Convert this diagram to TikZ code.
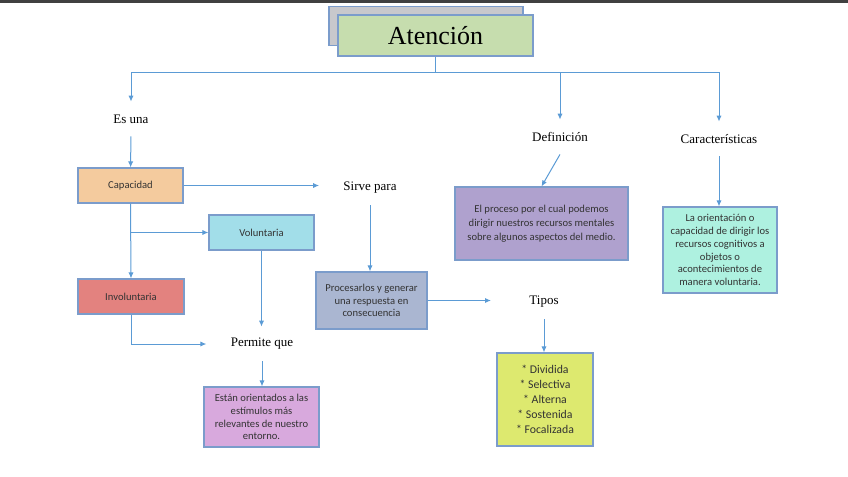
\documentclass[tikz,border=0pt]{standalone}
\usepackage{fontspec}
\setmainfont{Liberation Serif}
\newfontfamily\boxfont{Carlito}
\usetikzlibrary{arrows.meta}
\definecolor{linkblue}{HTML}{5B9BD5}
\definecolor{edgeblue}{HTML}{7B9CCB}
\definecolor{titlegreen}{HTML}{C6DDAE}
\definecolor{shadowgray}{HTML}{C8C8CC}
\definecolor{peach}{HTML}{F4CB9E}
\definecolor{skyblue}{HTML}{A2DEE9}
\definecolor{rosered}{HTML}{E3827F}
\definecolor{orchid}{HTML}{D8A9DD}
\definecolor{slateblue}{HTML}{AAB6D1}
\definecolor{lavender}{HTML}{AFA1CE}
\definecolor{mint}{HTML}{AEF1E0}
\definecolor{lime}{HTML}{DDE96F}

\begin{document}
\begin{tikzpicture}[x=0.5pt,y=-0.5pt,
        conn/.style={draw=linkblue,line width=0.5pt,-{Latex[length=3pt,width=2.6pt]}},
        card/.style={draw=edgeblue,line width=0.55pt,align=center,inner sep=0pt,text=black!80,
            font=\boxfont\fontsize{5.3}{6.4}\selectfont},
        word/.style={font=\fontsize{6.5}{8}\selectfont,inner xsep=12pt,minimum height=17pt}]
    \useasboundingbox (0,0) rectangle (848,477);
    \fill[black!75] (0,0) rectangle (848,2.5);

    % title
    \node[card,fill=shadowgray,minimum width=97pt,minimum height=19.5pt] (shadow) at (426,26) {};
    \node[card,fill=titlegreen,minimum width=97.5pt,minimum height=20.5pt,text=black,
        font=\fontsize{13}{15}\selectfont] (atencion) at (435.5,35.5) {Atención};
    \coordinate (hub) at (435.5,72);

    % plain words
    \node[word] (esuna) at (131,119) {Es una};
    \node[word] (sirve) at (370,188) {Sirve para};
    \node[word] (permite) at (262,344) {Permite que};
    \node[word,inner xsep=19pt] (tipos) at (544,302) {Tipos};
    \node[word] (definicion) at (560,137) {Definición};
    \node[word] (caracteristicas) at (719,139) {Características};

    % boxes
    \node[card,fill=peach,minimum width=52.5pt,minimum height=17.5pt] (capacidad) at (130.5,185.5) {Capacidad};
    \node[card,fill=skyblue,minimum width=52.5pt,minimum height=17.5pt] (voluntaria) at (261.5,232.5) {Voluntaria};
    \node[card,fill=rosered,minimum width=53pt,minimum height=17.5pt] (involuntaria) at (131,296.5) {Involuntaria};
    \node[card,fill=orchid,minimum width=57.5pt,minimum height=30pt] (orientados) at (261.5,417)
        {Están orientados a las\\estímulos más\\relevantes de nuestro\\entorno.};
    \node[card,fill=slateblue,minimum width=55.5pt,minimum height=28.5pt] (procesarlos) at (371.5,300.5)
        {Procesarlos y generar\\una respuesta en\\consecuencia};
    \node[card,fill=lavender,minimum width=86.5pt,minimum height=36.5pt,
        font=\boxfont\fontsize{5.3}{7}\selectfont] (proceso) at (541.5,223.5)
        {El proceso por el cual podemos\\dirigir nuestros recursos mentales\\sobre algunos aspectos del medio.};
    \node[card,fill=mint,minimum width=57pt,minimum height=43pt] (orientacion) at (720,250)
        {La orientación o\\capacidad de dirigir los\\recursos cognitivos a\\objetos o\\acontecimientos de\\manera voluntaria.};
    \node[card,fill=lime,minimum width=48pt,minimum height=46.5pt,
        font=\boxfont\fontsize{5.9}{7.5}\selectfont] (listado) at (545,399.5)
        {* Dividida\\* Selectiva\\* Alterna\\* Sostenida\\* Focalizada};

    % connectors
    \draw[linkblue,line width=0.5pt] (atencion.south) -- (hub);
    \draw[linkblue,line width=0.5pt] (hub -| esuna.north) -- (hub -| caracteristicas.north);
    \foreach \n in {esuna,definicion,caracteristicas}
        \draw[conn] (hub -| \n.north) -- (\n.north);
    \draw[conn] (esuna) -- (capacidad);
    \draw[conn] (capacidad.east) -- (capacidad.east -| sirve.west);
    \draw[conn] (capacidad.south) -- (involuntaria.north);
    \draw[conn] (capacidad.south |- voluntaria.west) -- (voluntaria.west);
    \draw[conn] (involuntaria.south) |- (permite.west);
    \draw[conn] (voluntaria.south) -- (voluntaria.south |- permite.north);
    \draw[conn] (permite.south) -- (permite.south |- orientados.north);
    \draw[conn] (sirve.south) -- (sirve.south |- procesarlos.north);
    \draw[conn] (procesarlos.east) -- (procesarlos.east -| tipos.west);
    \draw[conn] (tipos.south) -- (tipos.south |- listado.north);
    \draw[conn] (definicion.south) -- (proceso.north);
    \draw[conn] (caracteristicas.south) -- (caracteristicas.south |- orientacion.north);
\end{tikzpicture}
\end{document}
